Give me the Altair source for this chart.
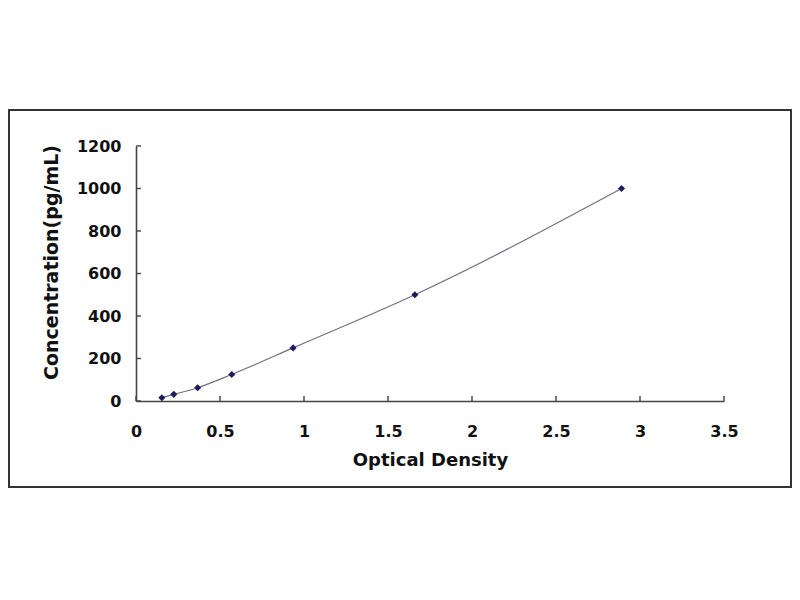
import altair as alt
import pandas as pd

# Standard curve values
optical_density = [0.154, 0.225, 0.367, 0.57, 0.935, 1.66, 2.89]
concentration = [15.6, 31.25, 62.5, 125, 250, 500, 1000]
x_ticks = [0, 0.5, 1, 1.5, 2, 2.5, 3, 3.5]
y_ticks = [0, 200, 400, 600, 800, 1000, 1200]

df = pd.DataFrame({"od": optical_density, "conc": concentration})
xt = pd.DataFrame({"od": x_ticks})
yt = pd.DataFrame({"conc": y_ticks})
frame = pd.DataFrame({"k": [0]})

W, H = 588, 255
FONT = "DejaVu Sans"

xs = alt.Scale(domain=[0, 3.5], nice=False, zero=False)
ys = alt.Scale(domain=[0, 1200], nice=False)

x_axis = alt.Axis(values=x_ticks, title="Optical Density", labelExpr="datum.value + ''",
                  grid=False, ticks=False, labelPadding=22, titlePadding=12, labelFlush=False,
                  titleFontSize=18, domainColor="#444", domainWidth=1.6)
y_axis = alt.Axis(values=y_ticks, title="Concentration(pg/mL)", labelExpr="datum.value + ''",
                  grid=False, ticks=False, labelPadding=15, titlePadding=15, labelFlush=False,
                  titleFontSize=19, titleY=116, domainColor="#444", domainWidth=1.6)

X = alt.X("od:Q", scale=xs, axis=x_axis)
Y = alt.Y("conc:Q", scale=ys, axis=y_axis)

line = alt.Chart(df).mark_line(interpolate="monotone", color="#707088", strokeWidth=1.2).encode(x=X, y=Y)
points = alt.Chart(df).mark_point(shape="diamond", filled=True, color="#1c1c5a", size=50, opacity=1).encode(x=X, y=Y)
xtick = alt.Chart(xt).mark_rule(color="#444", strokeWidth=1.4).encode(
    x=X, y=alt.value(H), y2=alt.value(H - 5),
)
ytick = alt.Chart(yt).mark_rule(color="#444", strokeWidth=1.4).encode(
    y=Y, x=alt.value(0), x2=alt.value(5),
)
border = alt.Chart(frame).mark_rect(filled=False, stroke="#333", strokeWidth=2).encode(
    x=alt.value(-127), x2=alt.value(655), y=alt.value(-36), y2=alt.value(341)
)

chart = alt.layer(line, points, xtick, ytick, border).properties(
    width=W, height=H,
    autosize=alt.AutoSizeParams(type="none"),
    padding={"left": 128, "top": 138, "right": 68, "bottom": 190},
).configure_view(stroke=None).configure_axis(
    labelFont=FONT, titleFont=FONT, labelFontSize=16,
    labelFontWeight="bold", titleFontWeight="bold", labelColor="#111", titleColor="#111",
)

chart.save("out.html", embed_options={"renderer": "svg", "actions": False})
